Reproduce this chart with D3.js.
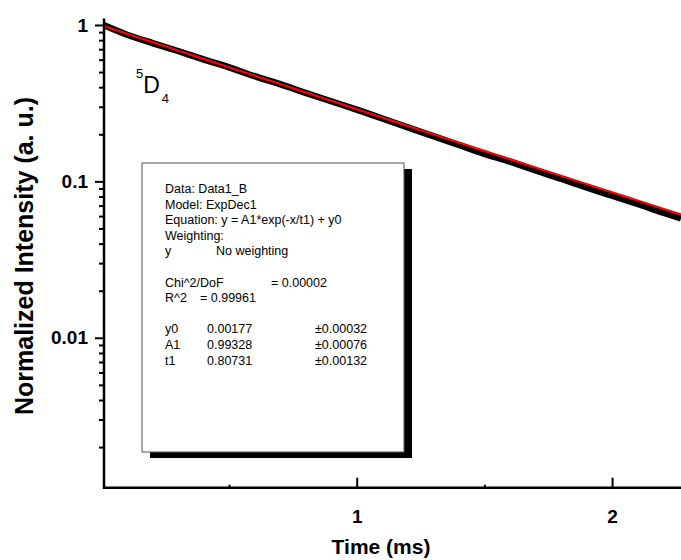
<!DOCTYPE html>
<html>
<head>
<meta charset="utf-8">
<script src="https://d3js.org/d3.v7.min.js"></script>
<style>
  body { margin: 0; background: #fff; }
  text { font-family: Arial, "Liberation Sans", sans-serif; }
</style>
</head>
<body>
<div id="chart"></div>
<script>
var time = [0.01, 0.1, 0.2, 0.3, 0.4, 0.5, 0.6, 0.7, 0.8, 0.9, 1.0, 1.1, 1.2,
            1.3, 1.4, 1.5, 1.6, 1.7, 1.8, 1.9, 2.0, 2.1, 2.2, 2.27];
var intensity = [0.995, 0.8665, 0.7658, 0.6818, 0.6026, 0.536, 0.4707, 0.419, 0.3678,
                 0.3252, 0.2875, 0.2524, 0.2214, 0.1945, 0.1707, 0.150, 0.1337, 0.1174,
                 0.1039, 0.0914, 0.0809, 0.0717, 0.0631, 0.058];
// fitted curve (red)
var fitTime = [0.01, 0.1, 0.2, 0.3, 0.4, 0.5, 0.6, 0.7, 0.8, 0.9, 1.0, 1.1, 1.2,
               1.3, 1.4, 1.5, 1.6, 1.7, 1.8, 1.9, 2.0, 2.1, 2.2, 2.27];
var fitValue = [0.9828, 0.8793, 0.7771, 0.6868, 0.6070, 0.5365, 0.4742, 0.4191, 0.3705,
                0.3276, 0.2896, 0.2561, 0.2264, 0.2003, 0.1771, 0.1567, 0.1387, 0.1227,
                0.1086, 0.0962, 0.0852, 0.0755, 0.0669, 0.0615];

var yMajor = [1, 0.1, 0.01];
var yLabels = ["1", "0.1", "0.01"];
var xMajor = [1, 2];
var xLabels = ["1", "2"];
var xMinor = [0.5, 1.5];

var legendRows = [
  ["Data: Data1_B"],
  ["Model: ExpDec1"],
  ["Equation: y = A1*exp(-x/t1) + y0"],
  ["Weighting:"],
  ["y", "No weighting"],
  [],
  ["Chi^2/DoF", "= 0.00002"],
  ["R^2", "=  0.99961"],
  [],
  ["y0", "0.00177", "±0.00032"],
  ["A1", "0.99328", "±0.00076"],
  ["t1", "0.80731", "±0.00132"]
];

var W = 681, H = 560;
var pL = 104, pR = 681, pT = 18.5, pB = 487.7;

var svg = d3.select("#chart").append("svg")
  .attr("width", W).attr("height", H);

var x = d3.scaleLinear().domain([0.0102, 2.27]).range([pL, pR]);
var y = d3.scaleLog().domain([0.0011, 1.1]).range([pB, pT]);

svg.append("defs").append("clipPath").attr("id", "clip")
  .append("rect").attr("x", pL).attr("y", pT - 5)
  .attr("width", pR - pL).attr("height", pB - pT + 5);

var line = d3.line()
  .x(function(d) { return x(d[0]); })
  .y(function(d) { return y(d[1]); })
  .curve(d3.curveMonotoneX);

var plot = svg.append("g").attr("clip-path", "url(#clip)");

plot.append("path")
  .datum(time.map(function(t, i) { return [t, intensity[i]]; }))
  .attr("d", line)
  .attr("fill", "none")
  .attr("stroke", "#000")
  .attr("stroke-width", 6.5);

plot.append("path")
  .datum(fitTime.map(function(t, i) { return [t, fitValue[i]]; }))
  .attr("d", line)
  .attr("fill", "none")
  .attr("stroke", "#ff0000")
  .attr("stroke-width", 2.2);

// y axis: log with minor ticks, ticks outward
var yMinor = [];
[0.001, 0.01, 0.1].forEach(function(dec) {
  for (var k = 2; k <= 9; k++) {
    var v = dec * k;
    if (v >= 0.0011 && v <= 1.1) yMinor.push(v);
  }
});

var yAxis = svg.append("g").attr("transform", "translate(" + pL + ",0)");
yAxis.call(d3.axisLeft(y).tickValues(yMajor)
  .tickFormat(function(d, i) { return yLabels[i]; })
  .tickSize(9).tickPadding(7));
yAxis.select(".domain").remove();
yAxis.selectAll(".tick line").attr("stroke-width", 2);
yAxis.selectAll(".tick text")
  .style("font-size", "19px").style("font-weight", "bold").attr("fill", "#000");

var yAxisMinor = svg.append("g").attr("transform", "translate(" + pL + ",0)");
yAxisMinor.call(d3.axisLeft(y).tickValues(yMinor).tickFormat("").tickSize(5));
yAxisMinor.select(".domain").remove();
yAxisMinor.selectAll(".tick line").attr("stroke-width", 2);

// x axis: ticks inward
var xAxis = svg.append("g").attr("transform", "translate(0," + pB + ")");
xAxis.call(d3.axisBottom(x).tickValues(xMajor)
  .tickFormat(function(d, i) { return xLabels[i]; })
  .tickSizeInner(-10).tickSizeOuter(0).tickPadding(22));
xAxis.select(".domain").remove();
xAxis.selectAll(".tick line").attr("stroke-width", 2);
xAxis.selectAll(".tick text")
  .style("font-size", "19px").style("font-weight", "bold").attr("fill", "#000");

var xAxisMinor = svg.append("g").attr("transform", "translate(0," + pB + ")");
xAxisMinor.call(d3.axisBottom(x).tickValues(xMinor).tickFormat("")
  .tickSizeInner(-3).tickSizeOuter(0));
xAxisMinor.select(".domain").remove();
xAxisMinor.selectAll(".tick line").attr("stroke-width", 2);

// axis lines
svg.append("path")
  .attr("d", "M" + pL + "," + pT + "V" + pB + "H" + pR)
  .attr("fill", "none").attr("stroke", "#000").attr("stroke-width", 2.5);

// axis titles
svg.append("text")
  .attr("x", 381).attr("y", 554)
  .attr("text-anchor", "middle")
  .style("font-size", "21px").style("font-weight", "bold")
  .text("Time (ms)");

svg.append("text")
  .attr("transform", "translate(33,256) rotate(-90)")
  .attr("text-anchor", "middle")
  .style("font-size", "25px").style("font-weight", "bold")
  .text("Normalized Intensity (a. u.)");

// 5D4 label
var lbl = svg.append("text").attr("x", 136).attr("y", 93).style("font-size", "23px");
lbl.append("tspan").attr("dy", -15).style("font-size", "13px").text("5");
lbl.append("tspan").attr("dy", 15).text("D");
lbl.append("tspan").attr("dx", 2).attr("dy", 10).style("font-size", "13px").text("4");

// fit report box with shadow
var bx = 142, by = 163, bw = 262, bh = 289;
svg.append("rect").attr("x", bx + 8).attr("y", by + 6)
  .attr("width", bw).attr("height", bh).attr("fill", "#000");
svg.append("rect").attr("x", bx).attr("y", by)
  .attr("width", bw).attr("height", bh)
  .attr("fill", "#fff").attr("stroke", "#555").attr("stroke-width", 1);

var rowG = svg.append("g").style("font-size", "12.5px");
legendRows.forEach(function(row, i) {
  if (!row.length) return;
  var xs;
  if (row.length === 1) xs = [165];
  else if (row.length === 3) xs = [165, 207, 315];
  else if (row[0] === "Chi^2/DoF") xs = [165, 271];
  else if (row[0] === "R^2") xs = [165, 200];
  else xs = [165, 216];
  row.forEach(function(s, j) {
    rowG.append("text").attr("x", xs[j]).attr("y", 193 + i * 15.6).text(s);
  });
});
</script>
</body>
</html>
